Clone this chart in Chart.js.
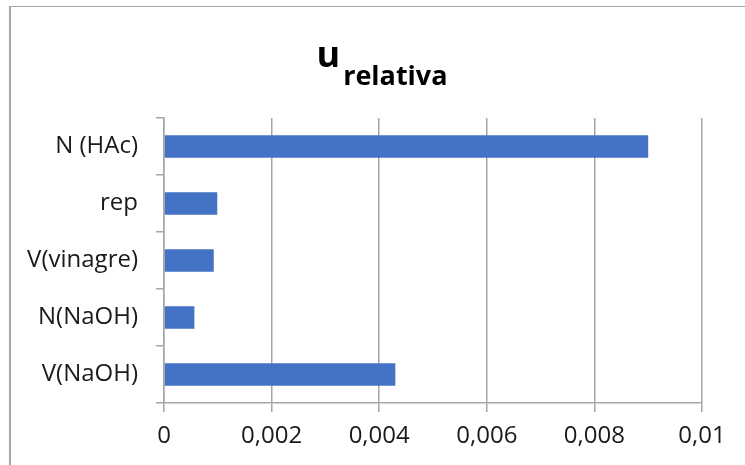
<!DOCTYPE html>
<html>
<head>
<meta charset="utf-8">
<script src="https://cdn.jsdelivr.net/npm/chart.js@4"></script>
<style>
  html, body { margin: 0; padding: 0; background: #fff; overflow: hidden; }
  #wrap { position: relative; width: 745px; height: 465px; }
  #frame { position: absolute; left: 9px; top: 6px; width: 900px; height: 700px;
           border-left: 2px solid #a6a6a6; border-top: 1px solid #a6a6a6; pointer-events: none; }
</style>
</head>
<body>
<div id="wrap">
  <canvas id="c" width="745" height="465"></canvas>
  <div id="frame"></div>
</div>
<script>
const categories = ['N (HAc)', 'rep', 'V(vinagre)', 'N(NaOH)', 'V(NaOH)'];
const uRelativa = [0.009, 0.00099, 0.000925, 0.000565, 0.0043];
const xTickLabels = ['0', '0,002', '0,004', '0,006', '0,008', '0,01'];
const titleMain = 'u';
const titleSub = 'relativa';

const FONT = "'Open Sans', 'DejaVu Sans', sans-serif";
const GRID = '#a6a6a6';

const titlePlugin = {
  id: 'subTitle',
  afterDraw(chart) {
    const ctx = chart.ctx;
    ctx.save();
    ctx.fillStyle = '#000';
    ctx.textBaseline = 'alphabetic';
    ctx.textAlign = 'left';
    ctx.font = 'bold 36px ' + FONT;
    const w1 = ctx.measureText(titleMain).width;
    ctx.font = 'bold 27px ' + FONT;
    const w2 = ctx.measureText(titleSub).width;
    const gap = 3;
    const cx = 382;
    const x0 = cx - (w1 + gap + w2) / 2;
    ctx.font = 'bold 36px ' + FONT;
    ctx.fillText(titleMain, x0, 67);
    ctx.font = 'bold 27px ' + FONT;
    ctx.fillText(titleSub, x0 + w1 + gap, 85);
    ctx.restore();
  }
};

new Chart(document.getElementById('c'), {
  type: 'bar',
  data: {
    labels: categories,
    datasets: [{
      label: 'u relativa',
      data: uRelativa,
      backgroundColor: '#4472C4',
      borderWidth: 0,
      categoryPercentage: 1,
      barPercentage: 0.395
    }]
  },
  options: {
    indexAxis: 'y',
    responsive: false,
    animation: false,
    layout: { padding: { top: 118, right: 43, bottom: 0, left: 0 } },
    plugins: {
      legend: { display: false },
      title: { display: false },
      tooltip: { enabled: false }
    },
    scales: {
      x: {
        type: 'linear',
        min: 0,
        max: 0.01,
        afterFit(scale) { scale.height = 62; },
        ticks: {
          stepSize: 0.002,
          padding: 10,
          color: '#1a1a1a',
          font: { family: FONT, size: 24 },
          maxRotation: 0,
          callback: (v, i) => xTickLabels[i]
        },
        grid: { color: GRID, lineWidth: 1.5, tickLength: 9, drawTicks: true },
        border: { display: true, color: GRID, width: 1.5 }
      },
      y: {
        type: 'category',
        afterFit(scale) { scale.width = 164; },
        ticks: {
          padding: 18,
          color: '#1a1a1a',
          font: { family: FONT, size: 24 }
        },
        grid: { color: GRID, lineWidth: 1.5, tickLength: 8, drawOnChartArea: false, offset: true },
        border: { display: true, color: GRID, width: 1.5 }
      }
    }
  },
  plugins: [titlePlugin]
});
</script>
</body>
</html>
